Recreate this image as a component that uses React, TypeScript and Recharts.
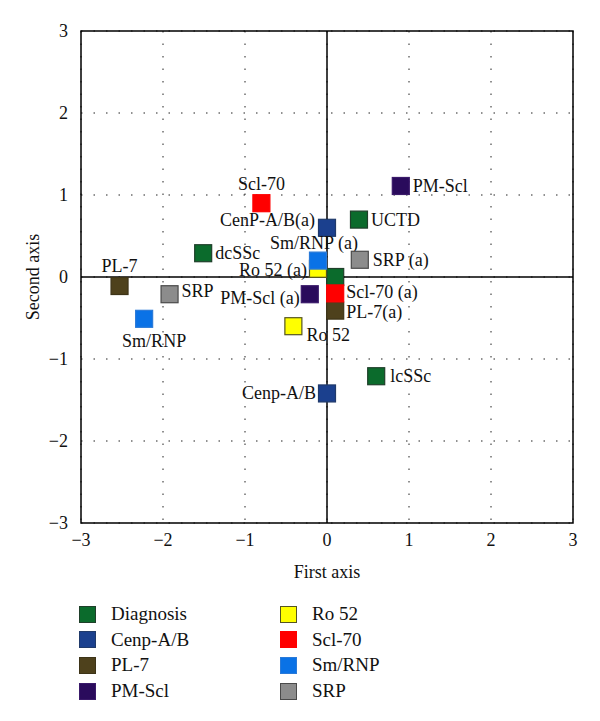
import { ReferenceArea, ReferenceLine, CartesianGrid, Scatter, ScatterChart, XAxis, YAxis } from 'recharts';

type Pt = { label: string; x: number; y: number };

const axisTicks = [-3, -2, -1, 0, 1, 2, 3];

const groupNames = ['Diagnosis', 'Cenp-A/B', 'PL-7', 'PM-Scl', 'Ro 52', 'Scl-70', 'Sm/RNP', 'SRP'];

const diagnosis: Pt[] = [
  { label: 'UCTD', x: 0.39, y: 0.7 },
  { label: 'dcSSc', x: -1.51, y: 0.29 },
  { label: '', x: 0.1, y: 0 },
  { label: 'lcSSc', x: 0.6, y: -1.21 },
];
const cenpAB: Pt[] = [
  { label: 'CenP-A/B(a)', x: 0, y: 0.6 },
  { label: 'Cenp-A/B', x: 0, y: -1.42 },
];
const pl7: Pt[] = [
  { label: 'PL-7', x: -2.53, y: -0.11 },
  { label: 'PL-7(a)', x: 0.1, y: -0.41 },
];
const pmScl: Pt[] = [
  { label: 'PM-Scl', x: 0.9, y: 1.11 },
  { label: 'PM-Scl (a)', x: -0.21, y: -0.21 },
];
const ro52: Pt[] = [
  { label: 'Ro 52 (a)', x: -0.11, y: 0.1 },
  { label: 'Ro 52', x: -0.41, y: -0.6 },
];
const scl70: Pt[] = [
  { label: 'Scl-70', x: -0.8, y: 0.9 },
  { label: 'Scl-70 (a)', x: 0.1, y: -0.2 },
];
const smRnp: Pt[] = [
  { label: 'Sm/RNP (a)', x: -0.11, y: 0.2 },
  { label: 'Sm/RNP', x: -2.23, y: -0.51 },
];
const srp: Pt[] = [
  { label: 'SRP (a)', x: 0.4, y: 0.21 },
  { label: 'SRP', x: -1.92, y: -0.21 },
];

const groupData = [diagnosis, cenpAB, pl7, pmScl, ro52, scl70, smRnp, srp];

// fill / border per group
const fills = ['#0b6b2c', '#1b408e', '#4e411c', '#2a0b5c', '#ffff00', '#ff0000', '#0a72e6', '#8c8c8c'];
const borders = ['#1f3f2a', '#203a6a', '#3d3418', '#3a1a6a', '#555522', '#ff0000', '#2a7ad8', '#4a4a4a'];

// label offsets from the marker centre: dx, dy, anchor
const labelPlace: Record<string, [number, number, string]> = {
  'PM-Scl': [12, 0, 'start'],
  'Scl-70': [0, -19, 'middle'],
  'CenP-A/B(a)': [-12, -8, 'end'],
  UCTD: [12, 0, 'start'],
  dcSSc: [12, 0, 'start'],
  'Sm/RNP (a)': [-4, -18, 'middle'],
  'SRP (a)': [13, 0, 'start'],
  'Ro 52 (a)': [-11, 1, 'end'],
  'Scl-70 (a)': [11, -1, 'start'],
  'PL-7(a)': [11, 1, 'start'],
  'PM-Scl (a)': [-10, 4, 'end'],
  'Ro 52': [13, 9, 'start'],
  'PL-7': [0, -20, 'middle'],
  SRP: [12, -3, 'start'],
  'Sm/RNP': [10, 22, 'middle'],
  'Cenp-A/B': [-11, 0, 'end'],
  lcSSc: [14, 0, 'start'],
};

const FONT = "'Times New Roman', 'Liberation Serif', 'DejaVu Serif', serif";
const SIZE = 17;

const fmt = (v: number) => String(v).replace('-', '\u2212');

function makeShape(i: number) {
  return (props: any) => {
    const { cx, cy, payload } = props;
    const place = labelPlace[payload.label];
    return (
      <g>
        <rect x={cx - SIZE / 2} y={cy - SIZE / 2} width={SIZE} height={SIZE} fill={fills[i]} stroke={borders[i]} strokeWidth={1.2} />
        {place && (
          <text x={cx + place[0]} y={cy + place[1]} textAnchor={place[2] as any} dominantBaseline="central" style={{ fontFamily: FONT }} fontSize={18} fill="#111">
            {payload.label}
          </text>
        )}
      </g>
    );
  };
}

const YTitle = (props: any) => {
  const { viewBox } = props;
  const cx = viewBox.x + 15;
  const cy = viewBox.y + viewBox.height / 2;
  return (
    <text x={cx} y={cy} transform={`rotate(-90 ${cx} ${cy})`} textAnchor="middle" dominantBaseline="central" style={{ fontFamily: FONT }} fontSize={18} fill="#111">
      Second axis
    </text>
  );
};

export default function App() {
  const tick = { fontSize: 18, fill: '#111', style: { fontFamily: FONT } };
  return (
    <div style={{ position: 'relative', width: 584, height: 705, fontFamily: FONT }}>
      <ScatterChart width={584} height={600} margin={{ top: 23, right: 19, bottom: 30, left: 10 }} style={{ fontFamily: FONT }}>
        <CartesianGrid stroke="#222" strokeDasharray="1.5 11" />
        <XAxis
          type="number"
          dataKey="x"
          domain={[-3, 3]}
          ticks={axisTicks}
          tickFormatter={fmt}
          axisLine={false}
          tickLine={false}
          tickSize={6}
          tickMargin={4}
          height={55}
          tick={tick}
          label={{ value: 'First axis', position: 'insideBottom', offset: 0, style: { fontFamily: FONT, fontSize: 18, fill: '#111' } }}
        />
        <YAxis
          type="number"
          dataKey="y"
          domain={[-3, 3]}
          ticks={axisTicks}
          tickFormatter={fmt}
          axisLine={false}
          tickLine={false}
          tickSize={6}
          tickMargin={7}
          width={63}
          tick={tick}
          label={<YTitle />}
        />
        <ReferenceArea x1={-3} x2={3} y1={-3} y2={3} fill="none" stroke="#000" strokeWidth={1.5} />
        <ReferenceLine x={0} stroke="#000" strokeWidth={1.5} />
        <ReferenceLine y={0} stroke="#000" strokeWidth={1.5} />
        {groupData.map((d, i) => (
          <Scatter key={groupNames[i]} name={groupNames[i]} data={d} shape={makeShape(i)} isAnimationActive={false} />
        ))}
      </ScatterChart>
      {groupNames.map((n, i) => {
        const col = i < 4 ? 0 : 1;
        const row = i % 4;
        const left = col === 0 ? 71 : 272;
        const top = 606 + row * 25.7 - SIZE / 2;
        return (
          <div key={n} style={{ position: 'absolute', left, top, height: SIZE, display: 'flex', alignItems: 'center' }}>
            <div style={{ width: SIZE, height: SIZE, boxSizing: 'border-box', background: fills[i], border: `1.5px solid ${borders[i]}` }} />
            <span style={{ marginLeft: 15, fontSize: 19, color: '#111', whiteSpace: 'nowrap' }}>{n}</span>
          </div>
        );
      })}
    </div>
  );
}
